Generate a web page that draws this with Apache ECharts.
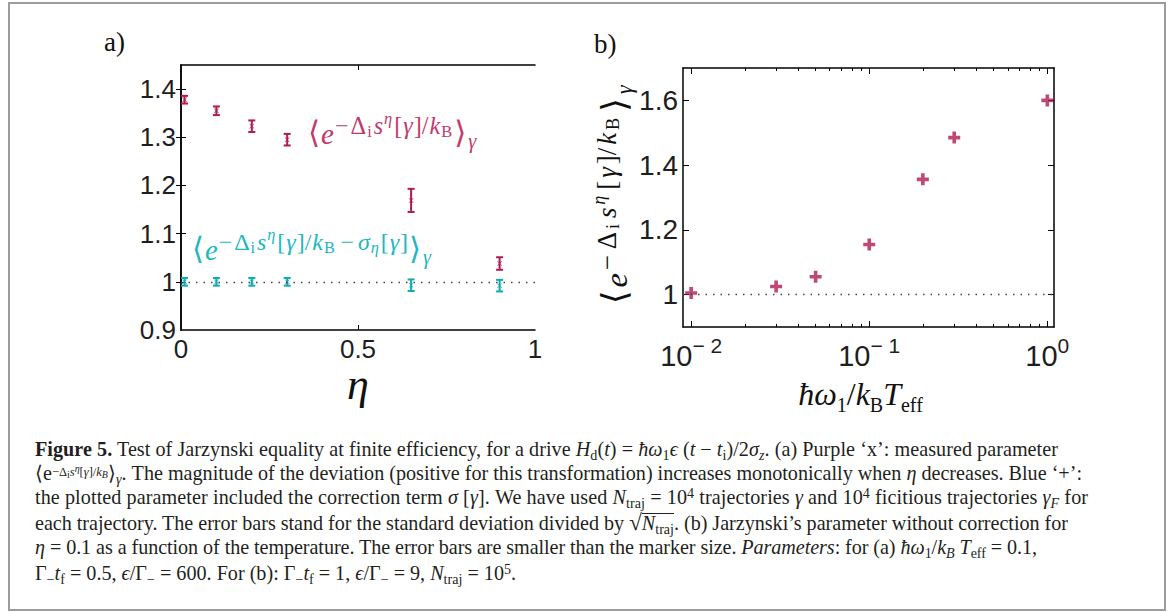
<!DOCTYPE html>
<html><head><meta charset="utf-8">
<script src="https://cdn.jsdelivr.net/npm/echarts@6/dist/echarts.min.js"></script>
<style>
html,body{margin:0;padding:0;background:#fff;}
#chart{position:absolute;left:0;top:0;width:1171px;height:612px;}
#cap{position:absolute;left:0;top:0;font-family:'Liberation Serif',serif;font-size:18px;color:#231f20;}
.ln{position:absolute;left:35px;white-space:nowrap;line-height:24px;}
sub,sup{font-size:0.7em;line-height:0;}
sup{vertical-align:0.42em;} sub{vertical-align:-0.25em;}
sup sup,sup sub{font-size:0.8em;}
sup.lo{font-size:0.62em;vertical-align:0.32em;}
.ol{display:inline-block;line-height:0.95em;border-top:1px solid #231f20;}
</style></head>
<body>
<div id="chart"></div>
<div id="cap">
<div class="ln" style="top:437px"><b>Figure 5.</b> Test of Jarzynski equality at finite efficiency, for a drive <i>H</i><sub>d</sub>(<i>t</i>) = <i>ħω</i><sub>1</sub><i>ϵ</i> (<i>t</i> − <i>t</i><sub>i</sub>)/2<i>σ</i><sub><i>z</i></sub>. (a) Purple ‘x’: measured parameter</div>
<div class="ln" style="top:461px">⟨e<sup class="lo">−Δ<sub>i</sub><i>s</i><sup><i>η</i></sup>[<i>γ</i>]/<i>k</i><sub><i>B</i></sub></sup>⟩<sub><i>γ</i></sub>. The magnitude of the deviation (positive for this transformation) increases monotonically when <i>η</i> decreases. Blue ‘+’:</div>
<div class="ln" style="top:485px">the plotted parameter included the correction term <i>σ</i> [<i>γ</i>]. We have used <i>N</i><sub>traj</sub> = 10<sup>4</sup> trajectories <i>γ</i> and 10<sup>4</sup> ficitious trajectories <i>γ</i><sub><i>F</i></sub> for</div>
<div class="ln" style="top:510px">each trajectory. The error bars stand for the standard deviation divided by <span style="font-size:1.15em">√</span><span class="ol"><i>N</i><sub>traj</sub></span>. (b) Jarzynski’s parameter without correction for</div>
<div class="ln" style="top:535px"><i>η</i> = 0.1 as a function of the temperature. The error bars are smaller than the marker size. <i>Parameters</i>: for (a) <i>ħω</i><sub>1</sub>/<i>k</i><sub><i>B</i></sub> <i>T</i><sub>eff</sub> = 0.1,</div>
<div class="ln" style="top:561px">Γ<sub>−</sub><i>t</i><sub>f</sub> = 0.5, <i>ϵ</i>/Γ<sub>−</sub> = 600. For (b): Γ<sub>−</sub><i>t</i><sub>f</sub> = 1, <i>ϵ</i>/Γ<sub>−</sub> = 9, <i>N</i><sub>traj</sub> = 10<sup>5</sup>.</div>
</div>
<script>
// ---- data ----
const etaValues = [0.01, 0.1, 0.2, 0.3, 0.65, 0.9];
const rawMean   = [1.378, 1.355, 1.323, 1.295, 1.169, 1.038];
const rawErr    = [0.008, 0.009, 0.012, 0.012, 0.024, 0.013];
const corrMean  = [1.0, 1.0, 1.0, 1.0, 0.993, 0.992];
const corrErr   = [0.008, 0.008, 0.008, 0.008, 0.012, 0.012];
const tempValues = [0.01, 0.03, 0.05, 0.1, 0.2, 0.3, 1.0];
const jarzValues = [1.005, 1.025, 1.055, 1.155, 1.356, 1.485, 1.6];
const aXLabels = [0, 0.5, 1];
const aXTicks = [0.5];
const aYLabels = [0.9, 1, 1.1, 1.2, 1.3, 1.4];
const aYTicks = [1, 1.1, 1.2, 1.3, 1.4];
const bYLabels = [1, 1.2, 1.4, 1.6];
const bXLabels = [0.01, 0.1, 1];
const bXMinor = [0.02,0.03,0.04,0.05,0.06,0.07,0.08,0.09,0.2,0.3,0.4,0.5,0.6,0.7,0.8,0.9];

const PURPLE = '#ae1b55', CYAN = '#12aab3';
const PURPLE_TXT = '#c13a6b', CYAN_TXT = '#22b6bf';
const SANS = 'Liberation Sans', SERIF = 'Liberation Serif';
const LBL = '#1e1e1e';

function mathRich(s, color, stretch) {
  const k = stretch || 1;
  const f = (o) => Object.assign({color: color, fontFamily: SERIF, verticalAlign: 'top'}, o);
  return {
    A:  f({fontFamily: 'DejaVu Serif', fontSize: 32*s, lineHeight: 32*s, padding: [7*s, 1*s*k, 0, 0]}),
    M:  f({fontStyle: 'italic', fontSize: 30*s, lineHeight: 30*s, padding: [10*s, 1*s*k, 0, 0]}),
    PM: f({fontSize: 25*s, lineHeight: 25*s, padding: [4*s, 2*s*k, 0, 0]}),
    PB: f({fontSize: 25*s, lineHeight: 25*s, padding: [4*s, 4*s*k, 0, 4*s*k]}),
    P:  f({fontSize: 25*s, lineHeight: 25*s, padding: [4*s, 1*s*k, 0, 0]}),
    PI: f({fontStyle: 'italic', fontSize: 25*s, lineHeight: 25*s, padding: [4*s, 1*s*k, 0, 0]}),
    PS: f({fontSize: 17*s, lineHeight: 17*s, padding: [14*s, 2*s*k, 0, 0]}),
    PSI: f({fontStyle: 'italic', fontSize: 17*s, lineHeight: 17*s, padding: [14*s, 2*s*k, 0, 0]}),
    PP: f({fontStyle: 'italic', fontSize: 17*s, lineHeight: 17*s, padding: [1*s, 2*s*k, 0, 0]}),
    G:  f({fontStyle: 'italic', fontSize: 21*s, lineHeight: 21*s, padding: [22*s, 0, 0, 1*s]})
  };
}
const rawExpr = '{A|⟨}{M|e}{PM|−}{P|Δ}{PS|i}{PI|s}{PP|η}{P|[}{PI|γ}{P|]/}{PI|k}{PS|B}{A|⟩}{G|γ}';
const corrExpr = '{A|⟨}{M|e}{PM|−}{P|Δ}{PS|i}{PI|s}{PP|η}{P|[}{PI|γ}{P|]/}{PI|k}{PS|B}{PB|−}{PI|σ}{PSI|η}{P|[}{PI|γ}{P|]}{A|⟩}{G|γ}';

function errorBars(color) {
  return function (params, api) {
    const x = api.value(0), y = api.value(1), e = api.value(2);
    const hi = api.coord([x, y + e]), lo = api.coord([x, y - e]);
    const w = 3.5, st = {stroke: color, lineWidth: 2};
    return {type: 'group', children: [
      {type: 'line', shape: {x1: hi[0], y1: hi[1], x2: lo[0], y2: lo[1]}, style: st},
      {type: 'line', shape: {x1: hi[0]-w, y1: hi[1], x2: hi[0]+w, y2: hi[1]}, style: st},
      {type: 'line', shape: {x1: lo[0]-w, y1: lo[1], x2: lo[0]+w, y2: lo[1]}, style: st}
    ]};
  };
}

const axisLine = {show: true, lineStyle: {color: '#000', width: 1.5}};
function tickSet(vals, len) { return {show: true, inside: true, length: len, customValues: vals, lineStyle: {color: '#000', width: 1}}; }
const X_SYM = 'path://M0,1L1,0L5,4L9,0L10,1L6,5L10,9L9,10L5,6L1,10L0,9L4,5Z';
const PLUS_SYM = 'path://M3.5,0h3v3.5h3.5v3h-3.5v3.5h-3v-3.5h-3.5v-3h3.5z';

const option = {
  animation: false,
  backgroundColor: '#fff',
  grid: [
    {left: 181, top: 65, width: 354, height: 265},
    {left: 683, top: 68, width: 371, height: 259}
  ],
  xAxis: [
    {gridIndex: 0, type: 'value', position: 'bottom', min: 0, max: 1,
     axisLine, axisTick: tickSet(aXTicks, 5), splitLine: {show: false},
     axisLabel: {customValues: aXLabels, fontFamily: SANS, fontSize: 26, color: LBL, margin: 6},
     name: 'η', nameLocation: 'middle', nameGap: 30,
     nameTextStyle: {fontFamily: SERIF, fontStyle: 'italic', fontSize: 44, color: '#111'}},
    {gridIndex: 0, type: 'value', position: 'top', min: 0, max: 1,
     axisLine, axisTick: tickSet(aXTicks, 5), axisLabel: {show: false}, splitLine: {show: false}},
    {gridIndex: 1, type: 'log', logBase: 10, position: 'bottom', min: 0.009, max: 1.09,
     axisLine, axisTick: tickSet(bXLabels, 6), splitLine: {show: false}, minorTick: {show: false},
     axisLabel: {customValues: bXLabels, margin: 8,
       formatter: function (v) { const p = Math.round(Math.log10(v)); return '{b|10}{s|' + (p < 0 ? '− ' + (-p) : p) + '}'; },
       rich: {b: {fontFamily: SANS, fontSize: 29, color: LBL, verticalAlign: 'top', lineHeight: 30, padding: [6, 0, 0, 0]},
              s: {fontFamily: SANS, fontSize: 21, color: LBL, verticalAlign: 'top', lineHeight: 21}}},
     name: '{i|ħω}{s|1}{r|/}{i|k}{s|B}{i|T}{s|eff}', nameLocation: 'middle', nameGap: 51,
     nameTextStyle: {padding: [0, 16, 0, 0], rich: {
       i: {fontFamily: SERIF, fontStyle: 'italic', fontSize: 32, color: '#111', verticalAlign: 'top', lineHeight: 32},
       r: {fontFamily: SERIF, fontSize: 32, color: '#111', verticalAlign: 'top', lineHeight: 32},
       s: {fontFamily: SERIF, fontSize: 20, color: '#111', verticalAlign: 'top', lineHeight: 20, padding: [17, 0, 0, 0]}}}},
    {gridIndex: 1, type: 'log', logBase: 10, position: 'bottom', min: 0.009, max: 1.09,
     axisLine: {show: false}, axisTick: tickSet(bXMinor, 3), axisLabel: {show: false}, splitLine: {show: false}},
    {gridIndex: 1, type: 'log', logBase: 10, position: 'top', min: 0.009, max: 1.09,
     axisLine, axisTick: tickSet(bXLabels, 6), axisLabel: {show: false}, splitLine: {show: false}},
    {gridIndex: 1, type: 'log', logBase: 10, position: 'top', min: 0.009, max: 1.09,
     axisLine: {show: false}, axisTick: tickSet(bXMinor, 3), axisLabel: {show: false}, splitLine: {show: false}}
  ],
  yAxis: [
    {gridIndex: 0, type: 'value', position: 'left', min: 0.9, max: 1.45,
     axisLine, axisTick: tickSet(aYTicks, 5), splitLine: {show: false},
     axisLabel: {customValues: aYLabels, fontFamily: SANS, fontSize: 26, color: LBL, margin: 5}},
    {gridIndex: 0, type: 'value', position: 'right', min: 0.9, max: 1.45,
     axisLine, axisTick: tickSet(aYTicks, 5), axisLabel: {show: false}, splitLine: {show: false}},
    {gridIndex: 1, type: 'value', position: 'left', min: 0.9, max: 1.7,
     axisLine, axisTick: tickSet(bYLabels, 6), splitLine: {show: false},
     axisLabel: {customValues: bYLabels, fontFamily: SANS, fontSize: 28, color: LBL, margin: 5}},
    {gridIndex: 1, type: 'value', position: 'right', min: 0.9, max: 1.7,
     axisLine, axisTick: tickSet(bYLabels, 6), axisLabel: {show: false}, splitLine: {show: false}}
  ],
  graphic: [
    {type: 'rect', shape: {x: 9, y: 3, width: 1156, height: 607}, style: {fill: 'none', stroke: '#9c9c9c', lineWidth: 2}, z: -10},
    {type: 'text', left: 104, top: 28, style: {text: 'a)', fontFamily: SERIF, fontSize: 27, fill: '#111'}},
    {type: 'text', left: 594, top: 30, style: {text: 'b)', fontFamily: SERIF, fontSize: 27, fill: '#111'}},
    {type: 'text', x: 308, y: 110, style: {text: rawExpr, rich: mathRich(0.97, PURPLE_TXT), fill: PURPLE_TXT}},
    {type: 'text', x: 192, y: 226, style: {text: corrExpr, rich: mathRich(0.96, CYAN_TXT), fill: CYAN_TXT}},
    {type: 'text', x: 589, y: 304, rotation: Math.PI / 2,
     style: {text: rawExpr, rich: mathRich(1.08, '#111', 2.7), fill: '#111'}}
  ],
  series: [
    {type: 'custom', name: 'raw', xAxisIndex: 0, yAxisIndex: 0, renderItem: errorBars(PURPLE),
     encode: {x: 0, y: 1}, data: etaValues.map((x, i) => [x, rawMean[i], rawErr[i]]), z: 3},
    {type: 'custom', name: 'corrected', xAxisIndex: 0, yAxisIndex: 0, renderItem: errorBars(CYAN),
     encode: {x: 0, y: 1}, data: etaValues.map((x, i) => [x, corrMean[i], corrErr[i]]), z: 3},
    {type: 'scatter', xAxisIndex: 0, yAxisIndex: 0, symbol: X_SYM,
     symbolSize: 5, itemStyle: {color: PURPLE}, data: etaValues.map((x, i) => [x, rawMean[i]]), z: 4},
    {type: 'scatter', xAxisIndex: 0, yAxisIndex: 0, symbol: X_SYM,
     symbolSize: 5, itemStyle: {color: CYAN}, data: etaValues.map((x, i) => [x, corrMean[i]]), z: 4,
     markLine: {silent: true, symbol: 'none', label: {show: false}, animation: false,
       lineStyle: {color: '#444', type: [1.5, 6], width: 1.3}, data: [{yAxis: 1}]}},
    {type: 'scatter', xAxisIndex: 2, yAxisIndex: 2, symbol: PLUS_SYM,
     symbolSize: 12, itemStyle: {color: PURPLE}, data: tempValues.map((x, i) => [x, jarzValues[i]]), z: 4,
     markLine: {silent: true, symbol: 'none', label: {show: false}, animation: false,
       lineStyle: {color: '#444', type: [1.5, 6], width: 1.3}, data: [{yAxis: 1}]}}
  ]
};
const chart = echarts.init(document.getElementById('chart'), null, {renderer: 'svg', width: 1171, height: 612});
chart.setOption(option);

// caption: pick a common font size from the reference line widths, then fine-tune each line
const capRight = [1058, 1082, 1088, 1068, 1037, null];
const lines = Array.from(document.querySelectorAll('#cap .ln'));
let ratio = 0, n = 0;
lines.forEach((el, i) => { if (capRight[i]) { ratio += (capRight[i] - 35) / el.getBoundingClientRect().width; n++; } });
const fs = 18 * ratio / n;
document.getElementById('cap').style.fontSize = fs + 'px';
lines.forEach((el, i) => {
  if (!capRight[i]) return;
  const w = el.getBoundingClientRect().width;
  const chars = el.textContent.length;
  el.style.letterSpacing = ((capRight[i] - 35 - w) / chars) + 'px';
});
</script>
</body></html>
